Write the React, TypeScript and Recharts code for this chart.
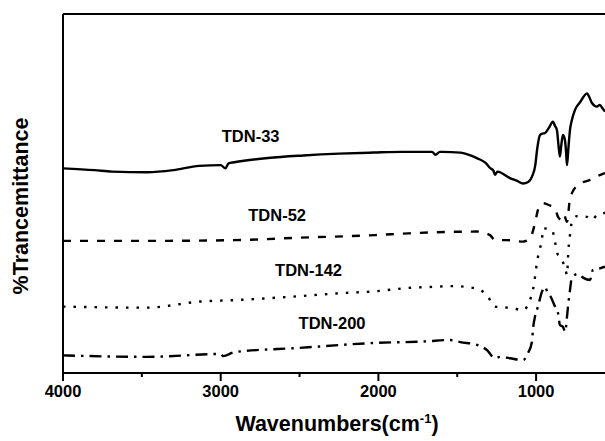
import { LineChart, Line, XAxis, YAxis, ReferenceLine, ReferenceDot, Label } from 'recharts';

// wavenumbers (cm-1) and transmittance (a.u., stacked offsets)
const tdn33Wn = [4000, 3800, 3689, 3467, 3300, 3137, 3000, 2970, 2950, 2914, 2700, 2476, 2250, 2032, 1850, 1702, 1660, 1638, 1610, 1594, 1480, 1420, 1372, 1320, 1292, 1270, 1261, 1245, 1166, 1120, 1083, 1050, 1026, 1005, 994, 975, 960, 944, 920, 893, 880, 868, 858, 849, 840, 830, 817, 810, 804, 795, 785, 773, 753, 720, 700, 677, 660, 646, 614, 595, 580, 563];
const tdn33T = [57.0, 56.5, 56.1, 55.9, 56.5, 57.7, 57.9, 57.0, 58.4, 58.7, 59.9, 60.6, 61.1, 61.4, 61.6, 61.6, 61.6, 60.8, 61.6, 61.6, 61.4, 60.7, 59.8, 58.5, 57.1, 56.3, 55.2, 56.1, 54.3, 53.5, 52.8, 53.2, 54.7, 57.9, 62.1, 66.3, 66.7, 66.8, 68.2, 70.0, 68.8, 67.7, 63.5, 60.3, 63.5, 66.3, 64.9, 61.6, 57.9, 62.7, 67.7, 70.5, 73.3, 75.5, 76.9, 77.9, 76.6, 75.2, 74.2, 74.7, 73.8, 72.8];

const tdn52Wn = [4000, 3500, 2914, 2500, 2021, 1810, 1550, 1372, 1292, 1261, 1185, 1083, 1039, 1007, 988, 956, 920, 880, 861, 836, 823, 804, 785, 773, 734, 658, 608, 563];
const tdn52T = [36.8, 36.8, 37.0, 37.7, 38.4, 38.9, 39.3, 39.4, 38.4, 37.0, 37.0, 36.6, 37.5, 41.7, 45.4, 47.3, 46.8, 45.9, 43.5, 42.6, 44.0, 42.1, 48.7, 50.1, 52.4, 53.8, 54.9, 55.7];

const tdn142Wn = [4000, 3467, 3131, 2914, 2500, 2254, 2009, 1810, 1653, 1524, 1368, 1305, 1261, 1153, 1083, 1039, 1020, 1007, 994, 975, 963, 956, 899, 880, 868, 849, 830, 815, 804, 795, 785, 773, 740, 677, 646, 614, 563];
const tdn142T = [18.5, 18.2, 19.9, 20.3, 21.4, 22.2, 22.8, 23.7, 24.0, 24.2, 23.4, 21.2, 18.5, 18.1, 17.5, 20.3, 23.1, 26.7, 30.9, 34.8, 37.0, 40.3, 39.8, 36.6, 33.5, 32.4, 30.9, 29.2, 27.3, 34.3, 38.4, 42.1, 43.7, 43.5, 42.6, 44.0, 44.6];

const tdn200Wn = [4000, 3467, 3000, 2984, 2914, 2500, 2009, 1700, 1549, 1480, 1372, 1312, 1261, 1229, 1166, 1083, 1052, 1026, 1020, 1007, 988, 963, 944, 925, 910, 880, 861, 849, 830, 815, 804, 795, 785, 773, 734, 700, 658, 640, 590, 563];
const tdn200T = [4.9, 4.5, 5.3, 4.7, 5.8, 7.0, 8.4, 8.8, 9.2, 8.6, 7.8, 6.4, 4.1, 4.5, 4.1, 3.6, 5.5, 8.7, 12.0, 15.7, 18.5, 22.6, 24.0, 22.2, 21.4, 18.5, 16.7, 13.4, 12.9, 11.5, 15.7, 19.5, 23.1, 26.5, 27.6, 26.5, 25.9, 28.7, 29.2, 29.6];

const xTicks = [4000, 3500, 3000, 2500, 2000, 1500, 1000];
const xDomain = [563, 4000];

// label positions, in data units
const curveLabels = [
  { name: 'TDN-33', wn: 2810, t: 66.0 },
  { name: 'TDN-52', wn: 2642, t: 43.9 },
  { name: 'TDN-142', wn: 2443, t: 28.7 },
  { name: 'TDN-200', wn: 2294, t: 13.8 },
];

const toPoints = (wn: number[], t: number[]) => wn.map((w, i) => ({ wn: w, t: t[i] }));

const FONT = '"Liberation Sans", Arial, sans-serif';

function WnTick({ x, y, payload }: any) {
  const major = payload.value % 1000 === 0;
  return (
    <g>
      <line x1={x} x2={x} y1={y} y2={y + (major ? 8 : 4)} stroke="#000" strokeWidth={2} />
      {major && (
        <text x={x} y={y + 24} textAnchor="middle" fontSize={16.5} fontWeight="bold" fontFamily={FONT} fill="#000">
          {payload.value}
        </text>
      )}
    </g>
  );
}

export default function App() {
  const series = [
    { key: 'tdn33', data: toPoints(tdn33Wn, tdn33T), dash: undefined },
    { key: 'tdn52', data: toPoints(tdn52Wn, tdn52T), dash: '8 9' },
    { key: 'tdn142', data: toPoints(tdn142Wn, tdn142T), dash: '2.5 8' },
    { key: 'tdn200', data: toPoints(tdn200Wn, tdn200T), dash: '12 6 2.5 6' },
  ];

  return (
    <div style={{ position: 'absolute', left: 0, top: 0, background: '#fff', fontFamily: FONT }}>
      <LineChart width={605} height={441} margin={{ top: 14, right: 0, bottom: 0, left: 0 }}>
        <XAxis
          type="number"
          dataKey="wn"
          domain={xDomain}
          reversed
          allowDataOverflow
          ticks={xTicks}
          interval={0}
          height={68}
          tickSize={0}
          tickMargin={0}
          tickLine={false}
          tick={<WnTick />}
          axisLine={{ stroke: '#000', strokeWidth: 2 }}
        >
          <Label
            content={() => (
              <text x={337} y={431} textAnchor="middle" fontSize={21.5} fontWeight="bold" fontFamily={FONT} fill="#000">
                Wavenumbers(cm
                <tspan dy={-8} fontSize={13}>-1</tspan>
                <tspan dy={8}>)</tspan>
              </text>
            )}
          />
        </XAxis>
        <YAxis
          type="number"
          domain={[0, 100]}
          width={63}
          tick={false}
          tickLine={false}
          axisLine={{ stroke: '#000', strokeWidth: 2 }}
        >
          <Label
            content={() => (
              <text
                transform="translate(21,206) rotate(-90)"
                textAnchor="middle"
                dominantBaseline="central"
                fontSize={21.5}
                fontWeight="bold"
                fontFamily={FONT}
                fill="#000"
              >
                %Trancemittance
              </text>
            )}
          />
        </YAxis>
        <ReferenceLine y={100} stroke="#000" strokeWidth={2} />
        {series.map((s) => (
          <Line
            key={s.key}
            data={s.data}
            dataKey="t"
            type="monotone"
            stroke="#000"
            strokeWidth={2.4}
            strokeDasharray={s.dash}
            dot={false}
            activeDot={false}
            isAnimationActive={false}
          />
        ))}
        {curveLabels.map((c) => (
          <ReferenceDot
            key={c.name}
            x={c.wn}
            y={c.t}
            r={0}
            fill="none"
            stroke="none"
            label={{ value: c.name, position: 'center', fontSize: 16.5, fontWeight: 'bold', fill: '#000', fontFamily: FONT }}
          />
        ))}
      </LineChart>
    </div>
  );
}
